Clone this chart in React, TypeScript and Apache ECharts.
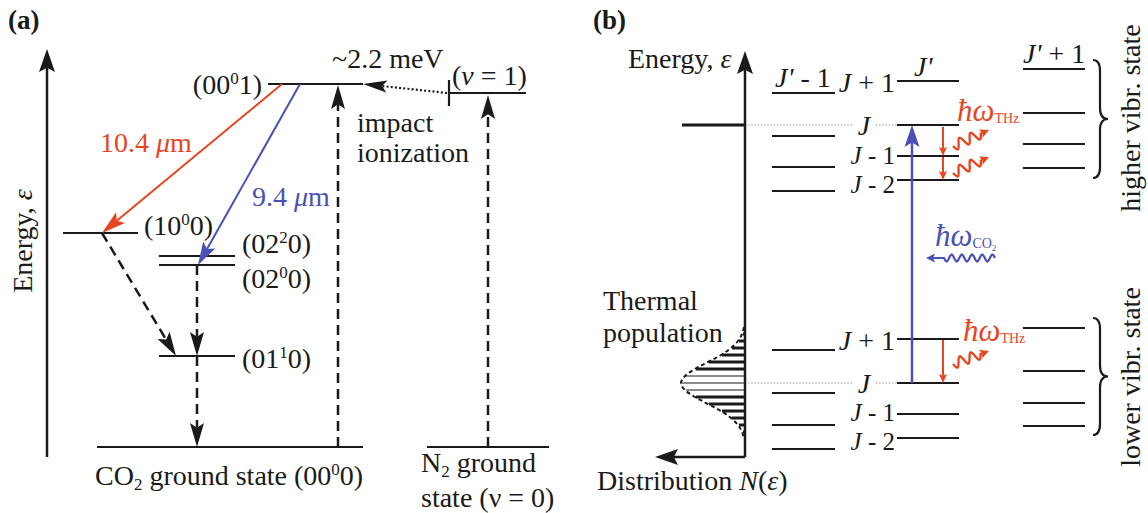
import React, { useEffect, useRef } from "react";
import * as echarts from "echarts";

const W = 1148;
const H = 513;
const INK = "#1a1a1a";
const RED = "#e8441e";
const BLUE = "#4a50b4";
const SERIF = "'Liberation Serif', 'Times New Roman', 'DejaVu Serif', serif";

// ---------- Panel (a): CO2 / N2 vibrational levels ----------
const vibLevelNames = ["(00⁰1)", "(10⁰0)", "(02²0)", "(02⁰0)", "(01¹0)", "CO₂ (00⁰0)", "N₂ (ν=1)", "N₂ (ν=0)"];
const vibLevelX0 = [268, 63, 159, 159, 159, 97, 449, 427];
const vibLevelX1 = [363, 138, 235, 235, 235, 363, 526, 549];
const vibLevelE = [84, 233, 256, 265, 356, 447, 93, 447];

// transitions of panel (a)
const transNames = ["10.4 μm", "9.4 μm", "10⁰0→01¹0", "02⁰0→01¹0", "01¹0→00⁰0", "pump CO₂", "pump N₂", "N₂→CO₂ transfer"];
const transKind = ["red", "blue", "dash", "dash", "dash", "dash", "dash", "dot"];
const transX0 = [282, 300, 102, 197, 197, 338, 488, 447];
const transE0 = [84, 84, 233, 265, 356, 447, 447, 93];
const transX1 = [102, 198, 176, 197, 197, 338, 488, 363];
const transE1 = [233, 265, 356, 356, 447, 85, 95, 84];

// N2 (v=1) marker tick
const n2TickX = 449;
const n2TickE = [80, 106];

// ---------- Panel (b): rotational manifolds ----------
const rotColumns = ["J'-1", "J'", "J'+1"];
const rotColX0 = [772, 897, 1023];
const rotColX1 = [835, 959, 1085];
const rotUpperE = [
  [93, 136, 167, 191],
  [81, 125, 156, 180],
  [69, 113, 144, 168],
];
const rotLowerE = [
  [350, 393, 425, 449],
  [339, 383, 414, 438],
  [328, 371, 403, 426],
];

// transitions of panel (b)
const bTransKind = ["co2", "thz", "thz", "thz"];
const bTransX = [912, 943, 943, 943];
const bTransE0 = [383, 127, 157, 340];
const bTransE1 = [125, 156, 180, 383];

// emitted / absorbed photons
const photonKind = ["thz", "thz", "thz", "co2"];
const photonX0 = [953, 953, 953, 995];
const photonE0 = [146, 173, 364, 258];
const photonX1 = [989, 989, 989, 926];
const photonE1 = [130, 157, 351, 258];
const photonWaves = [2.5, 2.5, 2.5, 5];

// thermal population N(ε) of the lower vibrational state
const thermalE = [327, 334, 341, 348, 355, 362, 369, 376, 383, 390, 397, 404, 411, 418, 425, 432, 439];
const thermalN = [1, 3, 7, 14, 24, 37, 50, 60, 64, 60, 50, 37, 24, 14, 7, 3, 1];
const axisBX = 745;

// J level guide lines and the upper vibrational level marker
const guideE = [125, 383];
const markerE = 125;
const markerX0 = 682;

// braces
const braceX = 1093;
const braceTop = [60, 318];
const braceBottom = [178, 435];

// energy axes (from, to)
const axisFromX = [47, 745, 745];
const axisFromE = [457, 457, 457];
const axisToX = [47, 745, 655];
const axisToE = [49, 51, 457];

type Pt = number[];

const arrowStyles: Record<string, any> = {
  red: { color: RED, width: 2, len: 24, half: 7, notch: 0.8 },
  blue: { color: BLUE, width: 2, len: 23, half: 7, notch: 0.8 },
  dash: { color: INK, width: 2.5, len: 24, half: 7, notch: 0.8, dash: [10, 6] },
  dot: { color: INK, width: 2.2, len: 24, half: 6, notch: 0.8, dash: [2, 2.2] },
  axis: { color: INK, width: 2.5, len: 23, half: 8, notch: 0.82 },
  co2: { color: BLUE, width: 2.5, len: 22, half: 7.5, notch: 0.8 },
  thz: { color: RED, width: 2, len: 9, half: 4, notch: 0.8 },
};

const photonStyles: Record<string, any> = {
  thz: { color: RED, width: 2.3, amp: 5, straight: 9, len: 9, half: 4.5 },
  co2: { color: BLUE, width: 2.2, amp: 3.4, straight: 18, len: 9, half: 4.5 },
};

function arrowShapes(a: Pt, b: Pt, st: any) {
  const dx = b[0] - a[0];
  const dy = b[1] - a[1];
  const L = Math.hypot(dx, dy) || 1;
  const ux = dx / L, uy = dy / L;
  const nx = -uy, ny = ux;
  const base = [b[0] - ux * st.len, b[1] - uy * st.len];
  const notch = [b[0] - ux * st.len * st.notch, b[1] - uy * st.len * st.notch];
  return [
    {
      type: "line",
      shape: { x1: a[0], y1: a[1], x2: notch[0], y2: notch[1] },
      style: { stroke: st.color, lineWidth: st.width, lineDash: st.dash || null, fill: "none" },
    },
    {
      type: "polygon",
      shape: {
        points: [
          [b[0], b[1]],
          [base[0] + nx * st.half, base[1] + ny * st.half],
          notch,
          [base[0] - nx * st.half, base[1] - ny * st.half],
        ],
      },
      style: { fill: st.color, stroke: "none" },
    },
  ];
}

function segSeries(name: string, data: number[][], style: any, z = 2) {
  return {
    type: "custom",
    name,
    coordinateSystem: "cartesian2d",
    silent: true,
    z,
    data,
    renderItem: (_p: any, api: any) => {
      const a = api.coord([api.value(0), api.value(1)]);
      const b = api.coord([api.value(2), api.value(3)]);
      return {
        type: "line",
        shape: { x1: a[0], y1: a[1], x2: b[0], y2: b[1] },
        style: { stroke: INK, lineWidth: 2.2, fill: "none", ...style },
      };
    },
  };
}

function arrowSeries(name: string, data: number[][], kinds: string[], z = 3) {
  return {
    type: "custom",
    name,
    coordinateSystem: "cartesian2d",
    silent: true,
    z,
    data,
    renderItem: (p: any, api: any) => {
      const a = api.coord([api.value(0), api.value(1)]);
      const b = api.coord([api.value(2), api.value(3)]);
      return { type: "group", children: arrowShapes(a, b, arrowStyles[kinds[p.dataIndex]]) };
    },
  };
}

const richFor = (c: string, size: number) => ({
  i: { fontSize: size, fontFamily: SERIF, fontStyle: "italic", fill: c },
  sup: { fontSize: 17, fontFamily: SERIF, fill: c, verticalAlign: "top" },
  sub: { fontSize: 17, fontFamily: SERIF, fill: c, verticalAlign: "bottom", height: 10, lineHeight: 10 },
  hw: { fontSize: 31, fontFamily: SERIF, fontStyle: "italic", fill: c },
  s: { fontSize: 14, fontFamily: SERIF, fill: c, verticalAlign: "bottom" },
  ss: { fontSize: 9, fontFamily: SERIF, fill: c, verticalAlign: "bottom", height: 6, lineHeight: 6 },
});

function txt(x: number, y: number, text: string, opt: any = {}) {
  const color = opt.color || INK;
  const align = opt.align || "left";
  const size = opt.size || 28;
  return {
    type: "text",
    x,
    y,
    rotation: opt.rotation || 0,
    silent: true,
    z: 20,
    style: {
      text,
      fill: color,
      fontSize: size,
      fontFamily: SERIF,
      fontWeight: opt.weight || "normal",
      fontStyle: opt.italic ? "italic" : "normal",
      textAlign: align,
      align,
      textVerticalAlign: "middle",
      verticalAlign: "middle",
      rich: richFor(color, size),
    },
  };
}

function buildOption() {
  // level segments
  const vibSegs = vibLevelE.map((e, i) => [vibLevelX0[i], e, vibLevelX1[i], e]);
  vibSegs.push([n2TickX, n2TickE[0], n2TickX, n2TickE[1]]);
  const rotSegs: number[][] = [];
  rotColumns.forEach((_c, k) => {
    rotUpperE[k].forEach((e) => rotSegs.push([rotColX0[k], e, rotColX1[k], e]));
    rotLowerE[k].forEach((e) => rotSegs.push([rotColX0[k], e, rotColX1[k], e]));
  });
  const guideSegs: number[][] = [];
  guideE.forEach((e) => {
    guideSegs.push([axisBX, e, 852, e]);
    guideSegs.push([876, e, rotColX0[1], e]);
  });
  const hatch = thermalE.map((e, i) => [axisBX - thermalN[i], e, axisBX, thermalN[i]]);

  const transData = transX0.map((x, i) => [x, transE0[i], transX1[i], transE1[i]]);
  const bTransData = bTransX.map((x, i) => [x, bTransE0[i], x, bTransE1[i]]);
  const axisData = axisFromX.map((x, i) => [x, axisFromE[i], axisToX[i], axisToE[i]]);
  const photonData = photonX0.map((x, i) => [x, photonE0[i], photonX1[i], photonE1[i], photonWaves[i]]);
  const braceData = braceTop.map((t, i) => [braceX, t, braceBottom[i]]);

  const series: any[] = [
    segSeries("vibrational levels", vibSegs, {}),
    segSeries("rotational levels", rotSegs, {}),
    segSeries("vibrational marker", [[markerX0, markerE, axisBX, markerE]], { lineWidth: 3 }),
    segSeries("J guides", guideSegs, { stroke: "#808080", lineWidth: 1, lineDash: [1.2, 2] }),
    arrowSeries("transitions (a)", transData, transKind),
    arrowSeries("transitions (b)", bTransData, bTransKind),
    arrowSeries("axes", axisData, axisData.map(() => "axis"), 4),
    {
      type: "custom",
      name: "thermal hatch",
      coordinateSystem: "cartesian2d",
      silent: true,
      z: 2,
      data: hatch,
      renderItem: (_p: any, api: any) => {
        const a = api.coord([api.value(0), api.value(1)]);
        const b = api.coord([api.value(2), api.value(1)]);
        const n = api.value(3);
        return {
          type: "line",
          shape: { x1: a[0] + 1, y1: a[1], x2: b[0], y2: b[1] },
          style: { stroke: INK, lineWidth: n >= 58 ? 1.2 : 3, fill: "none" },
        };
      },
    },
    {
      type: "line",
      name: "thermal population",
      data: thermalE.map((e, i) => [axisBX - thermalN[i], e]),
      smooth: 0.35,
      symbol: "none",
      silent: true,
      z: 3,
      lineStyle: { color: INK, width: 2, type: [4, 3] },
    },
    {
      type: "custom",
      name: "photons",
      coordinateSystem: "cartesian2d",
      silent: true,
      z: 3,
      data: photonData,
      renderItem: (p: any, api: any) => {
        const st = photonStyles[photonKind[p.dataIndex]];
        const a = api.coord([api.value(0), api.value(1)]);
        const b = api.coord([api.value(2), api.value(3)]);
        const waves = api.value(4);
        const dx = b[0] - a[0], dy = b[1] - a[1];
        const L = Math.hypot(dx, dy) || 1;
        const ux = dx / L, uy = dy / L, nx = -uy, ny = ux;
        const wl = L - st.straight;
        const pts: number[][] = [];
        const steps = Math.ceil(waves * 14);
        for (let k = 0; k <= steps; k++) {
          const s = (k / steps) * wl;
          const w = st.amp * Math.sin((2 * Math.PI * waves * k) / steps);
          pts.push([a[0] + ux * s + nx * w, a[1] + uy * s + ny * w]);
        }
        const notch = [b[0] - ux * st.len * 0.8, b[1] - uy * st.len * 0.8];
        pts.push(notch);
        const base = [b[0] - ux * st.len, b[1] - uy * st.len];
        return {
          type: "group",
          children: [
            { type: "polyline", shape: { points: pts }, style: { stroke: st.color, lineWidth: st.width, fill: "none" } },
            {
              type: "polygon",
              shape: {
                points: [
                  [b[0], b[1]],
                  [base[0] + nx * st.half, base[1] + ny * st.half],
                  notch,
                  [base[0] - nx * st.half, base[1] - ny * st.half],
                ],
              },
              style: { fill: st.color, stroke: "none" },
            },
          ],
        };
      },
    },
    {
      type: "custom",
      name: "braces",
      coordinateSystem: "cartesian2d",
      silent: true,
      z: 3,
      data: braceData,
      renderItem: (_p: any, api: any) => {
        const t = api.coord([api.value(0), api.value(1)]);
        const b = api.coord([api.value(0), api.value(2)]);
        const x = t[0], y0 = t[1], y1 = b[1];
        const ym = (y0 + y1) / 2;
        const xm = x + 7, xt = x + 15, r = 11;
        const d = `M${x},${y0} Q${xm},${y0} ${xm},${y0 + r} L${xm},${ym - r} Q${xm},${ym} ${xt},${ym} Q${xm},${ym} ${xm},${ym + r} L${xm},${y1 - r} Q${xm},${y1} ${x},${y1}`;
        return { type: "path", shape: { pathData: d }, style: { stroke: INK, lineWidth: 2.2, fill: "none" } };
      },
    },
  ];

  const JS = 25; // size of the close-packed J labels
  const graphic: any[] = [
    // panel (a)
    txt(8, 20, "(a)", { weight: "bold", size: 27 }),
    txt(22, 241, "Energy, {i|ε}", { align: "center", rotation: Math.PI / 2 }),
    txt(262, 84, "(00{sup|0}1)", { align: "right" }),
    txt(332, 58, "~2.2 meV"),
    txt(452, 75, "({i|ν} = 1)"),
    txt(357, 122, "impact"),
    txt(357, 152, "ionization"),
    txt(100, 142, "10.4 {i|μ}m", { color: RED }),
    txt(252, 196, "9.4 {i|μ}m", { color: BLUE }),
    txt(144, 225, "(10{sup|0}0)"),
    txt(242, 243, "(02{sup|2}0)"),
    txt(242, 278, "(02{sup|0}0)"),
    txt(242, 358, "(01{sup|1}0)"),
    txt(95, 475, "CO{sub|2} ground state (00{sup|0}0)"),
    txt(421, 462, "N{sub|2} ground"),
    txt(421, 497, "state (ν = 0)"),
    // panel (b)
    txt(593, 20, "(b)", { weight: "bold", size: 27 }),
    txt(628, 58, "Energy, {i|ε}"),
    txt(775, 77, "{i|J'} - 1"),
    txt(895, 82, "{i|J} + 1", { align: "right" }),
    txt(914, 66, "{i|J'}"),
    txt(1023, 53, "{i|J'} + 1"),
    txt(864, 125, "{i|J}", { align: "center" }),
    txt(895, 155, "{i|J} - 1", { align: "right", size: JS }),
    txt(895, 184, "{i|J} - 2", { align: "right", size: JS }),
    txt(957, 110, "{hw|ħω}{s|THz}", { color: RED }),
    txt(935, 235, "{hw|ħω}{s|CO}{ss|2}", { color: BLUE }),
    txt(1130, 118, "higher vibr. state", { align: "center", rotation: Math.PI / 2 }),
    txt(603, 300, "Thermal"),
    txt(603, 332, "population"),
    txt(895, 340, "{i|J} + 1", { align: "right" }),
    txt(864, 383, "{i|J}", { align: "center" }),
    txt(895, 412, "{i|J} - 1", { align: "right", size: JS }),
    txt(895, 441, "{i|J} - 2", { align: "right", size: JS }),
    txt(963, 330, "{hw|ħω}{s|THz}", { color: RED }),
    txt(1130, 377, "lower vibr. state", { align: "center", rotation: Math.PI / 2 }),
    txt(597, 480, "Distribution {i|N}({i|ε})"),
  ];

  return {
    animation: false,
    backgroundColor: "#ffffff",
    grid: { left: 0, right: 0, top: 0, bottom: 0, containLabel: false },
    xAxis: { type: "value", min: 0, max: W, show: false },
    yAxis: { type: "value", min: 0, max: H, inverse: true, show: false },
    series,
    graphic,
  };
}

export default function App() {
  const ref = useRef<HTMLDivElement>(null);
  useEffect(() => {
    document.body.style.margin = "0";
    document.body.style.overflow = "hidden";
    const chart = echarts.init(ref.current as HTMLDivElement, undefined, { renderer: "svg", width: W, height: H });
    chart.setOption(buildOption() as any);
    return () => chart.dispose();
  }, []);
  return <div ref={ref} style={{ width: W, height: H, background: "#fff" }} />;
}
